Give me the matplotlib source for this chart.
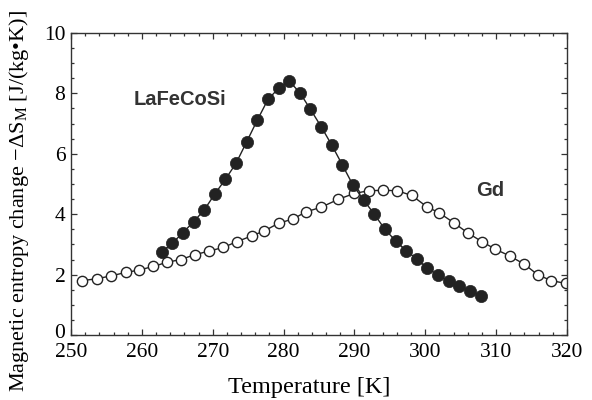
import matplotlib
matplotlib.use("Agg")
import matplotlib.pyplot as plt
import matplotlib.transforms as mtransforms
from matplotlib.ticker import MultipleLocator

# Data -----------------------------------------------------
lafecosi_t = [262.8, 264.3, 265.8, 267.3, 268.8, 270.3, 271.8, 273.3, 274.8, 276.3,
              277.8, 279.3, 280.8, 282.3, 283.8, 285.3, 286.8, 288.3, 289.8, 291.3,
              292.8, 294.3, 295.8, 297.3, 298.8, 300.3, 301.8, 303.3, 304.8, 306.3,
              307.8]
lafecosi_ds = [2.75, 3.04, 3.39, 3.75, 4.14, 4.67, 5.16, 5.69, 6.40, 7.12,
               7.80, 8.17, 8.41, 8.02, 7.47, 6.90, 6.29, 5.63, 4.96, 4.47,
               4.00, 3.50, 3.12, 2.79, 2.52, 2.21, 1.99, 1.78, 1.61, 1.46,
               1.30]

gd_t = [251.5, 253.6, 255.7, 257.7, 259.6, 261.6, 263.6, 265.5, 267.5, 269.5,
        271.5, 273.4, 275.5, 277.3, 279.3, 281.3, 283.2, 285.3, 287.7, 290.0,
        292.1, 294.1, 296.0, 298.1, 300.2, 302.0, 304.0, 306.0, 308.0, 309.9,
        311.9, 314.0, 315.9, 317.8, 319.8]
gd_ds = [1.80, 1.86, 1.96, 2.07, 2.15, 2.27, 2.41, 2.50, 2.66, 2.78,
         2.90, 3.09, 3.28, 3.45, 3.70, 3.84, 4.08, 4.23, 4.49, 4.69,
         4.78, 4.79, 4.78, 4.62, 4.25, 4.04, 3.72, 3.38, 3.09, 2.84,
         2.62, 2.34, 1.99, 1.80, 1.71]

x_ticks = [250, 260, 270, 280, 290, 300, 310, 320]
y_ticks = [0, 2, 4, 6, 8, 10]

plt.rcParams["font.family"] = ["Liberation Serif", "DejaVu Serif"]
plt.rcParams["mathtext.fontset"] = "custom"
plt.rcParams["mathtext.rm"] = "Liberation Serif"
plt.rcParams["mathtext.it"] = "Liberation Serif:italic"

fig = plt.figure(figsize=(5.92, 4.0), dpi=100)
ax = fig.add_axes([71 / 592, 65 / 400, 496 / 592, 302 / 400])

ink = "#222222"
ax.plot(gd_t, gd_ds, color=ink, lw=1.0, marker="o", ms=7.4,
        mfc="white", mec=ink, mew=1.0, zorder=2)
ax.plot(lafecosi_t, lafecosi_ds, color=ink, lw=1.0, marker="o", ms=8.8,
        mfc=ink, mec=ink, mew=0.5, zorder=3)

ax.text(265.4, 7.81, "LaFeCoSi", family="Liberation Sans", weight="bold",
        fontsize=14.5, color="#333333", ha="center", va="center")
ax.text(309.2, 4.77, "Gd", family="Liberation Sans", weight="bold",
        fontsize=14.5, color="#333333", ha="center", va="center")

ax.set_xlim(250, 320)
ax.set_ylim(0, 10)
ax.set_xticks(x_ticks)
ax.set_yticks(y_ticks)
ax.xaxis.set_minor_locator(MultipleLocator(2))
ax.yaxis.set_minor_locator(MultipleLocator(0.5))
ax.tick_params(which="both", direction="in", top=True, right=True,
               color="#333333", width=0.9)
ax.tick_params(which="major", length=4.5, labelsize=15.5)
ax.tick_params(axis="x", which="major", pad=5.5)
ax.tick_params(axis="y", which="major", pad=4)
ax.tick_params(which="minor", length=2.5)
for s in ax.spines.values():
    s.set_color("#333333")
    s.set_linewidth(1.0)

# lift the "0" on the y axis a little so it sits above "250" like the original
zero_lbl = ax.get_yticklabels()[0]
zero_lbl.set_transform(zero_lbl.get_transform() +
                       mtransforms.ScaledTranslation(0, 3 / 72, fig.dpi_scale_trans))

ax.set_xlabel("Temperature [K]", fontsize=17.5)
ax.xaxis.set_label_coords((309 - 71) / 496, -0.14)
ax.set_ylabel(r"Magnetic entropy change $-\Delta\mathrm{S_M}$ [J/(kg•K)]", fontsize=16)
ax.yaxis.set_label_coords(-0.08, 0.442)

fig.savefig("out.png", dpi=100)
